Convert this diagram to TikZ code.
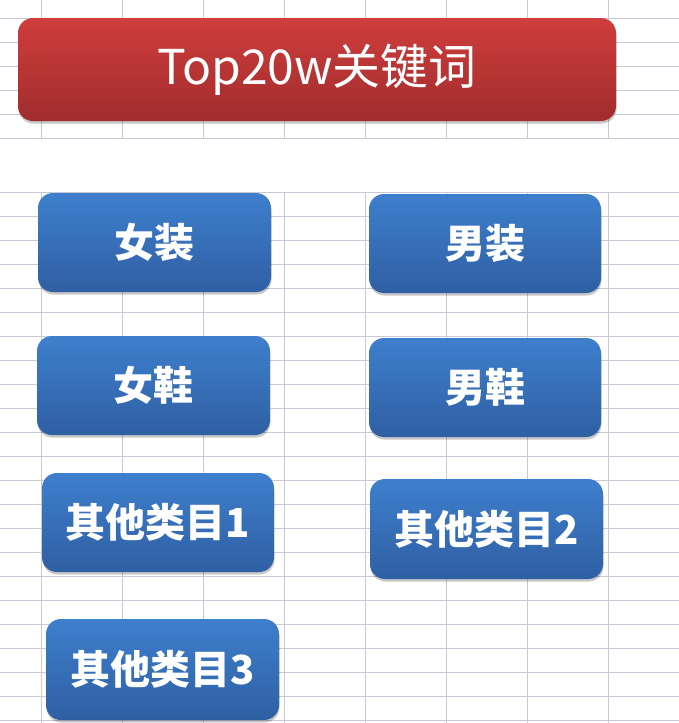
\documentclass[tikz,border=0pt]{standalone}
\usepackage{fontspec}
\newfontfamily\cjk{Noto Sans CJK SC}
\usetikzlibrary{shadows}
\definecolor{gridc}{HTML}{C8C8D6}
\definecolor{bluetop}{HTML}{3E7FCD}
\definecolor{bluebot}{HTML}{2F5FA3}
\definecolor{redtop}{HTML}{CF3E3D}
\definecolor{redbot}{HTML}{A02C2C}
\tikzset{
  gridline/.style={draw=gridc, line width=1pt},
  basebox/.style={rounded corners=15pt, inner sep=0pt, text=white,
    drop shadow={shadow xshift=0.5pt, shadow yshift=-2.5pt, fill=black, opacity=0.22}},
  titlebox/.style={basebox, top color=redtop, bottom color=redbot,
    font=\cjk\fontsize{48pt}{52pt}\selectfont},
  catbox/.style={basebox, top color=bluetop, bottom color=bluebot,
    font=\cjk\bfseries\fontsize{40pt}{44pt}\selectfont},
}
\newcommand{\mybox}[7]{%
  \node[#1, minimum width=#5pt-#3pt, minimum height=#6pt-#4pt] (#2)
    at ({(#3+#5)/2*1pt}, {-(#4+#6)/2*1pt}) {#7};}
\begin{document}
\begin{tikzpicture}[x=1pt,y=-1pt]
\useasboundingbox (0,0) rectangle (679,723);
\fill[white] (0,0) rectangle (679,723);
% grid
\foreach \y in {18,42,66,90,114,138} \draw[gridline] (0,\y) -- (679,\y);
\foreach \k in {0,...,22} \draw[gridline] (0,192+24*\k) -- (679,192+24*\k);
\foreach \k in {0,...,7} {
  \draw[gridline] (41+81*\k,0) -- (41+81*\k,138);
  \draw[gridline] (41+81*\k,192) -- (41+81*\k,723);
}
% boxes
\mybox{titlebox}{title}{18}{18}{616}{121}{Top20w关键词}
\mybox{catbox}{nvzhuang}{38}{193}{271}{292}{女装}
\mybox{catbox}{nanzhuang}{369}{194}{601}{293}{男装}
\mybox{catbox}{nvxie}{37}{336}{270}{435}{女鞋}
\mybox{catbox}{nanxie}{369}{338}{601}{437}{男鞋}
\mybox{catbox}{qita1}{42}{473}{274}{572}{其他类目1}
\mybox{catbox}{qita2}{370}{479}{603}{579}{其他类目2}
\mybox{catbox}{qita3}{46}{619}{279}{720}{其他类目3}
\end{tikzpicture}
\end{document}
